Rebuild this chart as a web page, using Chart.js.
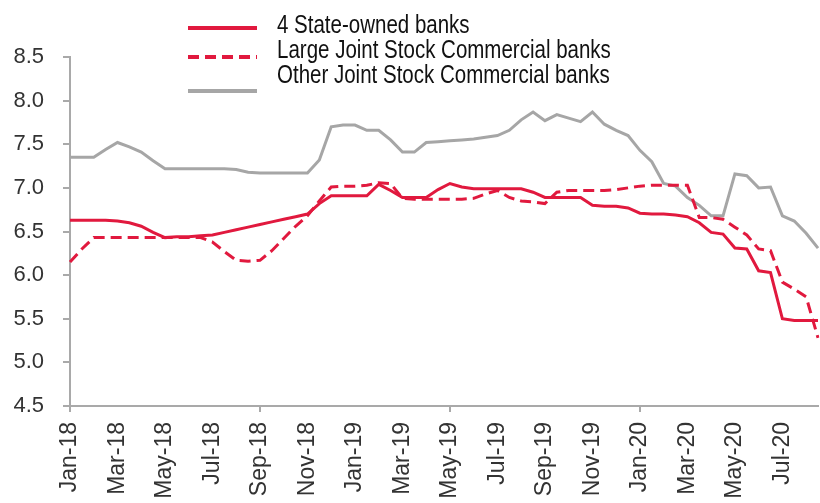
<!DOCTYPE html>
<html>
<head>
<meta charset="utf-8">
<script src="https://cdn.jsdelivr.net/npm/chart.js@4"></script>
<style>
  html, body { margin: 0; padding: 0; background: #ffffff; overflow: hidden; }
  #wrap { position: relative; width: 820px; height: 503px; }
</style>
</head>
<body>
<div id="wrap"><canvas id="c"></canvas></div>
<script>
// Half-monthly observations, Jan-18 .. Aug-20
const monthNames = ['Jan','Feb','Mar','Apr','May','Jun','Jul','Aug','Sep','Oct','Nov','Dec'];
const categories = [];
for (let k = 0; k < 64; k++) {
  const m = Math.floor(k / 2);
  const yy = 18 + Math.floor(m / 12);
  categories.push(monthNames[m % 12] + '-' + yy + (k % 2 ? ' (2H)' : ' (1H)'));
}

// x-axis tick labels (every 2 months)
const tickLabels = ['Jan-18','Mar-18','May-18','Jul-18','Sep-18','Nov-18','Jan-19','Mar-19',
                    'May-19','Jul-19','Sep-19','Nov-19','Jan-20','Mar-20','May-20','Jul-20'];

const seriesNames = ['4 State-owned banks', 'Large Joint Stock Commercial banks', 'Other Joint Stock Commercial banks'];

const stateOwned = [
  6.63, 6.63, 6.63, 6.63, 6.62, 6.60, 6.56, 6.49, 6.43, 6.44,
  6.44, 6.45, 6.46, 6.49, 6.52, 6.55, 6.58, 6.61, 6.64, 6.67,
  6.70, 6.82, 6.91, 6.91, 6.91, 6.91, 7.04, 6.97, 6.89, 6.89,
  6.89, 6.98, 7.05, 7.01, 6.99, 6.99, 6.99, 6.99, 6.99, 6.95,
  6.89, 6.89, 6.89, 6.89, 6.80, 6.79, 6.79, 6.77, 6.71, 6.70,
  6.70, 6.69, 6.67, 6.60, 6.49, 6.47, 6.31, 6.30, 6.05, 6.03,
  5.50, 5.48, 5.48, 5.48
];

const largeJSC = [
  6.15, 6.30, 6.43, 6.43, 6.43, 6.43, 6.43, 6.43, 6.43, 6.43,
  6.43, 6.43, 6.38, 6.27, 6.17, 6.16, 6.17, 6.28, 6.42, 6.56,
  6.68, 6.85, 7.01, 7.02, 7.02, 7.03, 7.06, 7.05, 6.88, 6.87,
  6.87, 6.87, 6.87, 6.87, 6.88, 6.93, 6.97, 6.89, 6.85, 6.84,
  6.82, 6.95, 6.97, 6.97, 6.97, 6.97, 6.98, 7.00, 7.02, 7.03,
  7.03, 7.03, 7.03, 6.66, 6.66, 6.64, 6.55, 6.46, 6.30, 6.28,
  5.92, 5.84, 5.75, 5.28
];

const otherJSC = [
  7.35, 7.35, 7.35, 7.44, 7.52, 7.47, 7.41, 7.31, 7.22, 7.22,
  7.22, 7.22, 7.22, 7.22, 7.21, 7.18, 7.17, 7.17, 7.17, 7.17,
  7.17, 7.32, 7.70, 7.72, 7.72, 7.66, 7.66, 7.55, 7.41, 7.41,
  7.52, 7.53, 7.54, 7.55, 7.56, 7.58, 7.60, 7.66, 7.78, 7.87,
  7.77, 7.84, 7.80, 7.76, 7.87, 7.73, 7.66, 7.60, 7.43, 7.30,
  7.05, 7.02, 6.89, 6.80, 6.68, 6.68, 7.16, 7.14, 7.00, 7.01,
  6.68, 6.62, 6.48, 6.31
];

const RED = '#E1193E';
const GREY = '#A6A6A6';
const AXIS = '#A9A9A9';
const LABEL = '#333333';

const legendPlugin = {
  id: 'customLegend',
  afterDraw(chart) {
    const ctx = chart.ctx;
    const ys = [28, 57, 91];
    const baselines = [33, 58, 83];
    chart.data.datasets.forEach((ds, i) => {
      ctx.save();
      ctx.strokeStyle = ds.borderColor;
      ctx.lineWidth = 4;
      ctx.setLineDash(ds.borderDash || []);
      ctx.beginPath();
      ctx.moveTo(188, ys[i]);
      ctx.lineTo(257, ys[i]);
      ctx.stroke();
      ctx.restore();

      ctx.save();
      ctx.fillStyle = '#111111';
      ctx.font = '25px "Liberation Sans", Arial, sans-serif';
      ctx.textBaseline = 'alphabetic';
      ctx.textAlign = 'left';
      ctx.translate(277, baselines[i]);
      ctx.scale(0.82, 1);
      ctx.fillText(ds.label, 0, 0);
      ctx.restore();
    });
  }
};

new Chart(document.getElementById('c'), {
  type: 'line',
  data: {
    labels: categories,
    datasets: [
      { label: seriesNames[0], data: stateOwned, borderColor: RED, borderWidth: 3, pointRadius: 0, tension: 0, fill: false },
      { label: seriesNames[1], data: largeJSC, borderColor: RED, borderWidth: 3, borderDash: [11, 6], pointRadius: 0, tension: 0, fill: false },
      { label: seriesNames[2], data: otherJSC, borderColor: GREY, borderWidth: 3, pointRadius: 0, tension: 0, fill: false }
    ]
  },
  options: {
    responsive: true,
    maintainAspectRatio: false,
    animation: false,
    layout: { padding: { top: 57, left: 0, right: 0, bottom: 0 } },
    plugins: {
      legend: { display: false },
      tooltip: { enabled: false }
    },
    scales: {
      x: {
        type: 'category',
        offset: false,
        afterFit(scale) { scale.height = 97; },
        border: { display: true, color: AXIS, width: 2 },
        grid: {
          drawOnChartArea: false,
          drawTicks: true,
          tickLength: 6,
          color: (c) => (c.index % 4 === 0 ? AXIS : 'rgba(0,0,0,0)'),
          tickColor: (c) => (c.index % 4 === 0 ? AXIS : 'rgba(0,0,0,0)'),
          lineWidth: 2
        },
        ticks: {
          autoSkip: false,
          minRotation: 90,
          maxRotation: 90,
          padding: 10,
          color: LABEL,
          font: { family: '"Liberation Sans", Arial, sans-serif', size: 23 },
          callback: (v, i) => (i % 4 === 0 ? tickLabels[i / 4] : null)
        }
      },
      y: {
        min: 4.5,
        max: 8.5,
        afterFit(scale) { scale.width = 70; },
        border: { display: true, color: AXIS, width: 2 },
        grid: {
          drawOnChartArea: false,
          drawTicks: true,
          tickLength: 7,
          color: AXIS,
          tickColor: AXIS,
          lineWidth: 2
        },
        ticks: {
          stepSize: 0.5,
          padding: 19,
          color: LABEL,
          font: { family: '"Liberation Sans", Arial, sans-serif', size: 22 },
          callback: (v) => v.toFixed(1)
        }
      }
    }
  },
  plugins: [legendPlugin]
});
</script>
</body>
</html>
